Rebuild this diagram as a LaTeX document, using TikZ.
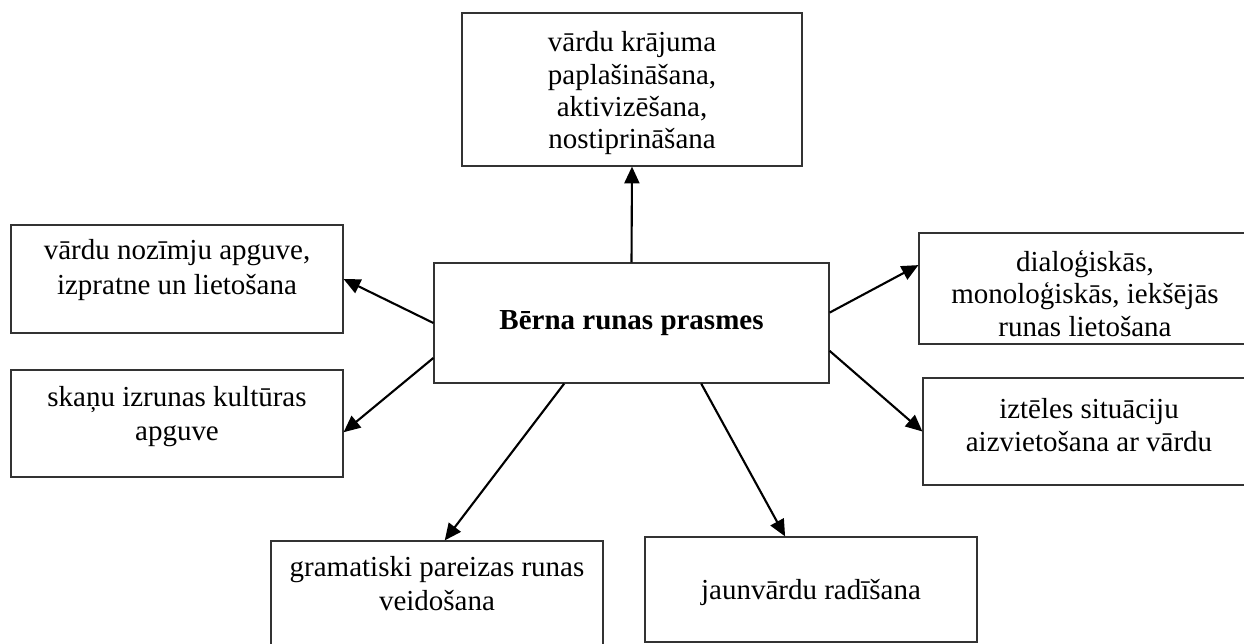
\documentclass[tikz,border=0pt]{standalone}
\usepackage{fontspec}
\setmainfont{Liberation Serif}
\usetikzlibrary{arrows.meta}

\tikzset{
  box/.style={draw=black!80, line width=0.7pt, inner sep=0pt},
  boxtext/.style={align=center, font=\fontsize{16.5pt}{19pt}\selectfont\lineskiplimit-20pt\relax},
  link/.style={-{Triangle[length=9.5pt,width=8.5pt]}, line width=1.2pt}
}

\begin{document}
\begin{tikzpicture}[x=0.02cm,y=-0.02cm]
\useasboundingbox (0,0) rectangle (1244,643);
\clip (0,0) rectangle (1244,643);

% The boxes
\node[box, minimum width=7.9cm, minimum height=2.4cm,
  label={[boxtext]center:{\textbf{Bērna runas prasmes}}}] (runa) at (631.5,323) {};
\node[box, minimum width=6.8cm, minimum height=3.06cm,
  label={[boxtext, yshift=-0.08cm, font=\fontsize{16.5pt}{18.4pt}\selectfont\lineskiplimit-20pt\relax]center:{vārdu krājuma\\ paplašināšana,\\ aktivizēšana,\\ nostiprināšana}}] (krajums) at (632,89.5) {};
\node[box, minimum width=6.64cm, minimum height=2.16cm,
  label={[boxtext, yshift=0.17cm, font=\fontsize{16.5pt}{19.9pt}\selectfont\lineskiplimit-20pt\relax]center:{vārdu nozīmju apguve,\\ izpratne un lietošana}}] (nozime) at (177,279) {};
\node[box, minimum width=6.64cm, minimum height=2.14cm,
  label={[boxtext, yshift=0.14cm]center:{skaņu izrunas kultūras\\ apguve}}] (skanas) at (177,423.5) {};
\node[box, minimum width=6.64cm, minimum height=2.22cm,
  label={[boxtext, yshift=-0.1cm, font=\fontsize{16.5pt}{18.5pt}\selectfont\lineskiplimit-20pt\relax]center:{dialoģiskās,\\ monoloģiskās, iekšējās\\ runas lietošana}}] (dialogs) at (1085,288.5) {};
\node[box, minimum width=6.64cm, minimum height=2.14cm,
  label={[boxtext, yshift=0.13cm]center:{iztēles situāciju\\ aizvietošana ar vārdu}}] (izteles) at (1089,431.5) {};
\node[box, minimum width=6.64cm, minimum height=2.18cm,
  label={[boxtext, yshift=0.24cm]center:{gramatiski pareizas runas\\ veidošana}}] (gramatika) at (437,595.5) {};
\node[box, minimum width=6.64cm, minimum height=2.1cm,
  label={[boxtext, yshift=-0.05cm]center:{jaunvārdu radīšana}}] (jaunvardi) at (811,589.5) {};

% The arrows
\draw[link] (runa.north) -- (krajums.south);
\draw[link] (runa.west) -- (nozime.east);
\draw[link] (runa.190) -- (skanas.-3);
\draw[link] (runa.3) -- (dialogs.172);
\draw[link] (runa.-8) -- (izteles.west);
\draw[link] (runa.-138) -- (gramatika.82);
\draw[link] (runa.-41) -- (jaunvardi.116);
\end{tikzpicture}
\end{document}
